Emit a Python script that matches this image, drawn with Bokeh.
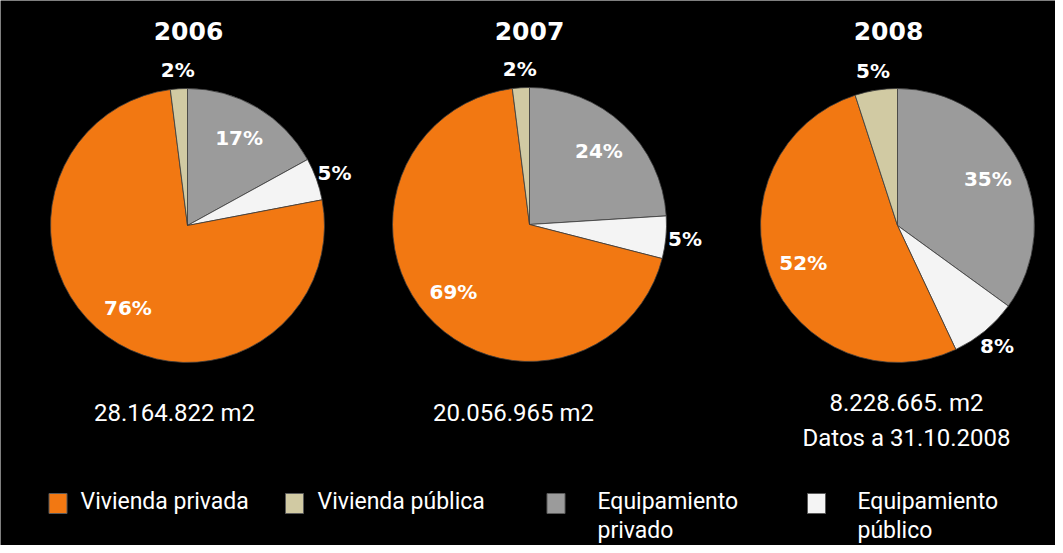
import math
from bokeh.plotting import figure
from bokeh.models import Range1d, ColumnDataSource
from bokeh.core.properties import value
from bokeh.embed import file_html
from bokeh.resources import INLINE

# ---------------- data ----------------
years = ["2006", "2007", "2008"]
# slices in clockwise order starting at 12 o'clock
categories = ["Equipamiento privado", "Equipamiento público", "Vivienda privada", "Vivienda pública"]
share_2006 = [17, 5, 76, 2]
share_2007 = [24, 5, 69, 2]
share_2008 = [35, 8, 52, 5]
surface_labels = [["28.164.822 m2"], ["20.056.965 m2"], ["8.228.665. m2", "Datos a 31.10.2008"]]
legend_labels = [["Vivienda privada"], ["Vivienda pública"], ["Equipamiento", "privado"], ["Equipamiento", "público"]]
legend_categories = ["Vivienda privada", "Vivienda pública", "Equipamiento privado", "Equipamiento público"]

colors = {
    "Vivienda privada": "#F27812",
    "Vivienda pública": "#D1CAA3",
    "Equipamiento privado": "#9B9B9B",
    "Equipamiento público": "#F4F4F4",
}

# ---------------- layout ----------------
W, H = 1055, 545
def X(px):
    return px - 8
def Y(py):
    return 553 - py

pie_centers = [(195, 233), (537, 232), (905, 233)]
pie_radius = 137
title_pos = [(196, 38), (537, 38), (896, 38)]
surface_pos = [(182, 420), (521, 420), (914, 410)]
surface_line_gap = 35
legend_marker_x = [65.5, 302, 563.5, 824]
legend_text_x = [88, 325, 605, 865]
legend_y = 509
legend_line_gap = 29

TXT = "Roboto"
BASE = "DejaVu Sans"

p = figure(width=W, height=H, x_range=Range1d(0, W), y_range=Range1d(0, H),
           output_backend="svg", toolbar_location=None,
           x_axis_location=None, y_axis_location=None,
           min_border=0, background_fill_color="black", border_fill_color="black")
p.outline_line_color = None
p.grid.visible = False

shares = [share_2006, share_2007, share_2008]
for (cx, cy), vals, yr, tpos, spos, slines in zip(pie_centers, shares, years, title_pos, surface_pos, surface_labels):
    total = float(sum(vals))
    starts, ends, cols, lx, ly, ltxt = [], [], [], [], [], []
    cum = 0.0
    for cat, v in zip(categories, vals):
        f0 = cum / total
        f1 = (cum + v) / total
        cum += v
        # clockwise from top -> convert to math angles (anticlockwise from +x)
        starts.append(math.pi / 2 - 2 * math.pi * f1)
        ends.append(math.pi / 2 - 2 * math.pi * f0)
        cols.append(colors[cat])
        mid = 2 * math.pi * (f0 + f1) / 2  # clockwise from top
        fac = 0.74 if v >= 10 else 1.14
        lx.append(X(cx) + fac * pie_radius * math.sin(mid))
        ly.append(Y(cy) + fac * pie_radius * math.cos(mid))
        ltxt.append(f"{v}%")
    src = ColumnDataSource(dict(x=[X(cx)] * len(vals), y=[Y(cy)] * len(vals),
                                start=starts, end=ends, color=cols))
    p.wedge(x="x", y="y", radius=pie_radius, start_angle="start", end_angle="end",
            fill_color="color", line_color="#3c3c3c", line_width=0.8, source=src)
    p.text(x=lx, y=ly, text=ltxt, text_color="white", text_font=value(BASE),
           text_font_style="bold", text_font_size="20px",
           text_align="center", text_baseline="middle")
    p.text(x=[X(tpos[0])], y=[Y(tpos[1])], text=[yr], text_color="white",
           text_font=value(BASE), text_font_style="bold", text_font_size="25px",
           text_align="center", text_baseline="middle")
    for i, line in enumerate(slines):
        p.text(x=[X(spos[0])], y=[Y(spos[1] + i * surface_line_gap)], text=[line],
               text_color="white", text_font=value(TXT), text_font_size="24px",
               text_align="center", text_baseline="middle")

# legend
for mx, tx, cat, lines in zip(legend_marker_x, legend_text_x, legend_categories, legend_labels):
    p.rect(x=[X(mx)], y=[Y(legend_y + 2)], width=18, height=20,
           fill_color=colors[cat], line_color="#5a5a5a", line_width=1)
    for i, line in enumerate(lines):
        p.text(x=[X(tx)], y=[Y(legend_y + i * legend_line_gap)], text=[line],
               text_color="white", text_font=value(TXT), text_font_size="23px",
               text_align="left", text_baseline="middle")

open("out.html", "w").write(file_html(p, INLINE))
